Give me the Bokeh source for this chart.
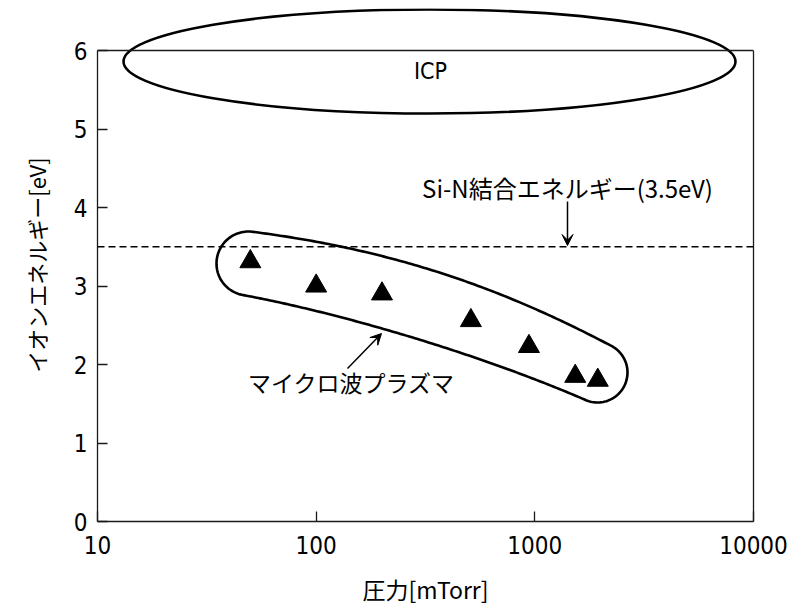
import numpy as np
from bokeh.plotting import figure
from bokeh.models import (FixedTicker, LinearAxis, Span, Arrow, VeeHead, Label, Range1d)
from bokeh.embed import file_html
from bokeh.resources import INLINE

# ---------------- data ----------------
pressure_mtorr = [50, 100, 200, 510, 940, 1530, 1940]
ion_energy_ev = [3.31, 3.00, 2.90, 2.56, 2.23, 1.85, 1.80]
x_ticks = [10, 100, 1000, 10000]
x_tick_labels = ["10", "100", "1000", "10000"]
y_ticks = [0, 1, 2, 3, 4, 5, 6]
sin_bond_energy = 3.5
x_label = "圧力[mTorr]"
y_label = "イオンエネルギー[eV]"
label_icp = "ICP"
label_sin = "Si-N結合エネルギー(3.5eV)"
label_mw = "マイクロ波プラズマ"

# ---------------- geometry ----------------
FRAME_W, FRAME_H = 656, 513
PX_PER_EV = 78.5
Y_TOP = FRAME_H / PX_PER_EV
LEFT0, BOTTOM0 = 97, 521   # page pixel of frame left / y=0 line

def px2x(px):
    return 10 ** (1 + 3 * (np.asarray(px, float) - LEFT0) / FRAME_W)

def py2y(py):
    return (BOTTOM0 - np.asarray(py, float)) / PX_PER_EV

NUM_FONT = "'Liberation Sans Narrow', 'DejaVu Sans Condensed', 'Liberation Sans', sans-serif"
JP_FONT = "'Noto Sans CJK JP', sans-serif"

p = figure(x_axis_type="log", x_range=Range1d(10, 10000), y_range=Range1d(0, Y_TOP),
           frame_width=FRAME_W, frame_height=FRAME_H,
           min_border_left=97, min_border_right=40, min_border_top=8, min_border_bottom=86,
           output_backend="svg", toolbar_location=None)
p.outline_line_color = None
p.xgrid.visible = False
p.ygrid.visible = False
p.background_fill_color = "white"
p.border_fill_color = "white"

AX_COL = "#1a1a1a"
# x axis
xa = p.xaxis[0]
xa.ticker = FixedTicker(ticks=x_ticks)
xa.major_label_overrides = {t: l for t, l in zip(x_ticks, x_tick_labels)}
xa.minor_tick_line_color = None
xa.major_tick_in = 10
xa.major_tick_out = 0
xa.major_tick_line_width = 1.3
xa.major_tick_line_color = AX_COL
xa.axis_line_width = 1.3
xa.axis_line_color = AX_COL
xa.major_label_text_font = NUM_FONT
xa.major_label_text_font_size = "24px"
xa.major_label_text_color = "black"
xa.major_label_standoff = 14
xa.axis_label = x_label
xa.axis_label_text_font = JP_FONT
xa.axis_label_text_font_size = "23px"
xa.axis_label_text_font_style = "normal"
xa.axis_label_text_color = "black"
xa.axis_label_standoff = 15

# y axis
ya = p.yaxis[0]
ya.ticker = FixedTicker(ticks=y_ticks)
ya.bounds = (0, 6)
ya.minor_tick_line_color = None
ya.major_tick_in = 10
ya.major_tick_out = 0
ya.major_tick_line_width = 1.3
ya.major_tick_line_color = AX_COL
ya.axis_line_width = 1.3
ya.axis_line_color = AX_COL
ya.major_label_text_font = NUM_FONT
ya.major_label_text_font_size = "24px"
ya.major_label_text_color = "black"
ya.major_label_standoff = 10
ya.axis_label = y_label
ya.axis_label_text_font = JP_FONT
ya.axis_label_text_font_size = "22px"
ya.axis_label_text_font_style = "normal"
ya.axis_label_text_color = "black"
ya.axis_label_standoff = 19

# right frame line & top frame line
ra = LinearAxis(ticker=FixedTicker(ticks=[]), bounds=(0, 6), axis_line_width=1.3,
                axis_line_color=AX_COL, major_tick_line_color=None, minor_tick_line_color=None,
                major_label_text_font_size="0px")
p.add_layout(ra, "right")
p.add_layout(Span(location=6, dimension="width", line_color=AX_COL, line_width=1.3))

# Si-N bond energy dashed line
p.add_layout(Span(location=sin_bond_energy, dimension="width", line_color="black",
                  line_width=1.3, line_dash="7 4"))

# data triangles
p.scatter(pressure_mtorr, ion_energy_ev, marker="triangle", size=21,
          fill_color="black", line_color="black")

# ICP ellipse
p.ellipse(x=[float(px2x(429))], y=[float(py2y(61))], width=612, height=104,
          width_units="screen", height_units="screen",
          fill_color=None, line_color="black", line_width=2.6)
p.add_layout(Label(x=float(px2x(430)), y=float(py2y(70)), text=label_icp,
                   text_align="center", text_baseline="middle",
                   text_font=NUM_FONT, text_font_size="23px", text_color="black"))

# microwave plasma enclosure (curved capsule, built in screen pixels)
P0 = np.array([248.0, 263.0]); C = np.array([430.0, 292.0]); P2 = np.array([597.0, 372.0])
t = np.linspace(0, 1, 120)[:, None]
B = (1 - t) ** 2 * P0 + 2 * t * (1 - t) * C + t ** 2 * P2
D = 2 * (1 - t) * (C - P0) + 2 * t * (P2 - C)
T = D / np.linalg.norm(D, axis=1, keepdims=True)
N = np.column_stack([T[:, 1], -T[:, 0]])
R = (32 + 4 * np.sin(np.pi * t[:, 0]) - 2 * t[:, 0])[:, None]
upper = B + R * N
lower = B - R * N
phi = np.linspace(0, np.pi, 60)[:, None]
end_cap = P2 + R[-1] * (np.cos(phi) * N[-1] + np.sin(phi) * T[-1])
start_cap = P0 + R[0] * (np.cos(phi) * (-N[0]) + np.sin(phi) * (-T[0]))
path = np.vstack([upper, end_cap, lower[::-1], start_cap, upper[:1]])
p.line(px2x(path[:, 0]), py2y(path[:, 1]), line_color="black", line_width=2.6)

# labels and arrows
p.add_layout(Label(x=float(px2x(567)), y=float(py2y(187)), text=label_sin,
                   text_align="center", text_baseline="middle",
                   text_font=JP_FONT, text_font_size="24px", text_color="black"))
p.add_layout(Arrow(end=VeeHead(size=11, fill_color="black", line_color="black"),
                   x_start=float(px2x(567)), y_start=float(py2y(201)),
                   x_end=float(px2x(567)), y_end=float(py2y(245)),
                   line_color="black", line_width=1.5))
p.add_layout(Label(x=float(px2x(351)), y=float(py2y(381)), text=label_mw,
                   text_align="center", text_baseline="middle",
                   text_font=JP_FONT, text_font_size="23px", text_color="black"))
p.add_layout(Arrow(end=VeeHead(size=11, fill_color="black", line_color="black"),
                   x_start=float(px2x(347)), y_start=float(py2y(368)),
                   x_end=float(px2x(381)), y_end=float(py2y(333)),
                   line_color="black", line_width=1.5))

open("out.html", "w").write(file_html(p, INLINE))
